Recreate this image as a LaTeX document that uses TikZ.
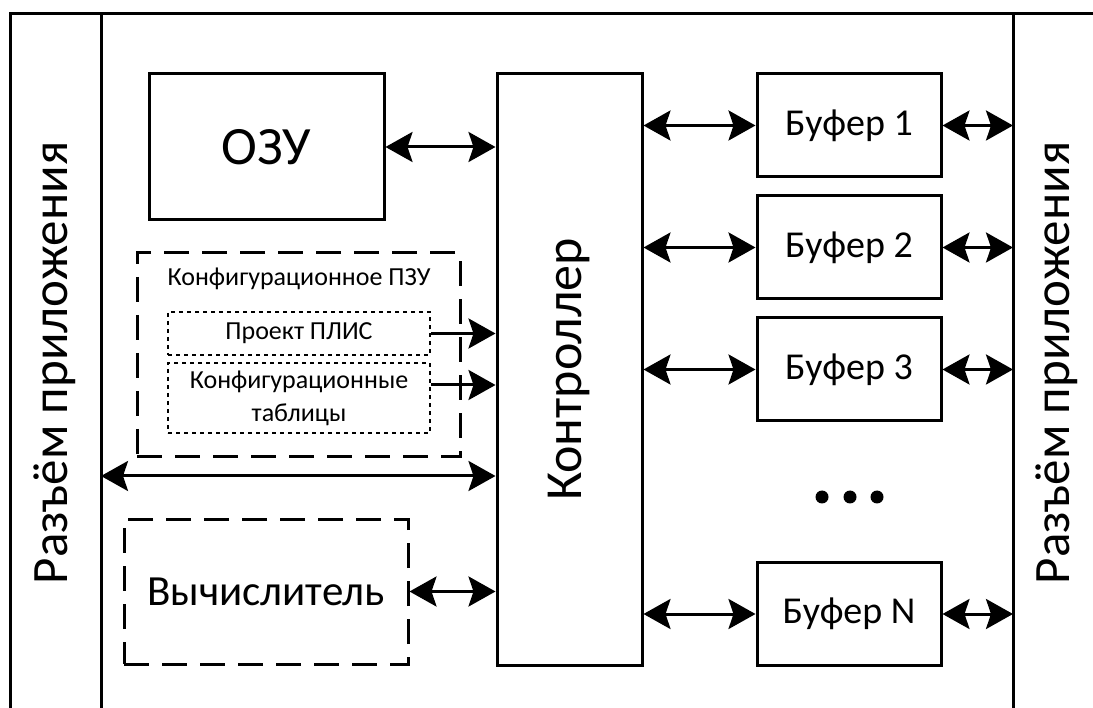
\documentclass[tikz,border=0pt]{standalone}
\usepackage{fontspec}
\setmainfont{Carlito}
\usetikzlibrary{arrows.meta,calc}
\begin{document}
\begin{tikzpicture}[x=1pt,y=-1pt,
  line width=3pt,
  blk/.style={draw, line width=3pt, inner sep=0pt, align=center},
  dashblk/.style={blk, dash pattern=on 25pt off 13pt},
  dotblk/.style={blk, line width=2.5pt, dash pattern=on 4pt off 4pt},
  biarrow/.style={line width=3pt, {Stealth[length=27pt,width=30pt,inset=5pt]}-{Stealth[length=27pt,width=30pt,inset=5pt]}},
  onearrow/.style={line width=3pt, -{Stealth[length=27pt,width=30pt,inset=5pt]}},
  buftxt/.style={font=\fontsize{38}{44}\selectfont},
]
\useasboundingbox (0,0) rectangle (1093,708);
\fill[white] (0,0) rectangle (1093,708);

% frame
\draw (10,712) -- (10,14) -- (1096,14);
\draw (101,14) -- (101,712);
\draw (1013,14) -- (1013,712);
\coordinate (lline) at (101,476);
\coordinate (rline) at (1013,0);

% connector labels
\node[rotate=90, font=\fontsize{51}{58}\selectfont] (connL) at (55,363) {Разъём приложения};
\node[rotate=90, font=\fontsize{51}{58}\selectfont] (connR) at (1057,363) {Разъём приложения};

% blocks
\node[blk, minimum width=235pt, minimum height=146pt, font=\fontsize{54}{62}\selectfont] (ozu) at (266.5,147) {ОЗУ};
\node[blk, minimum width=145pt, minimum height=591pt] (ctrl) at (569.5,369.5) {};
\node[rotate=90, font=\fontsize{52}{60}\selectfont] (ctrltxt) at (ctrl.center) {Контроллер};

\node[blk, minimum width=184pt, minimum height=103pt, buftxt] (b1) at (849,125.5) {Буфер 1};
\node[blk, minimum width=184pt, minimum height=103pt, buftxt] (b2) at (849,247.5) {Буфер 2};
\node[blk, minimum width=184pt, minimum height=103pt, buftxt] (b3) at (849,369.5) {Буфер 3};
\node[blk, minimum width=184pt, minimum height=103pt, buftxt] (bn) at (849,614) {Буфер N};

\node[dashblk, minimum width=323pt, minimum height=204pt] (pzu) at (298.5,355) {};
\node[font=\fontsize{26}{30}\selectfont] (pzutxt) at (299,279) {Конфигурационное ПЗУ};
\node[dotblk, minimum width=262pt, minimum height=43pt, font=\fontsize{26}{30}\selectfont] (plis) at (299,333.5) {Проект ПЛИС};
\node[dotblk, minimum width=262pt, minimum height=70pt, font=\fontsize{26}{33}\selectfont] (tab) at (299,398) {Конфигурационные\\таблицы};

\node[dashblk, minimum width=284pt, minimum height=145pt, font=\fontsize{43}{50}\selectfont] (calc) at (266,591.5) {Вычислитель};

% dots
\fill (822,497) circle (6.5pt);
\fill (850,497) circle (6.5pt);
\fill (877,497) circle (6.5pt);

% connectors
\draw[biarrow] (ozu.east) -- (ozu.east -| ctrl.west);
\draw[onearrow] (plis.east) -- (plis.east -| ctrl.west);
\draw[onearrow] ([yshift=13pt]tab.east) -- ([yshift=13pt]tab.east -| ctrl.west);
\draw[biarrow] (lline) -- (lline -| ctrl.west);
\draw[biarrow] (calc.east) -- (calc.east -| ctrl.west);

\foreach \b in {b1,b2,b3,bn}{
  \draw[biarrow] (\b.west -| ctrl.east) -- (\b.west);
  \draw[biarrow] (\b.east) -- (\b.east -| rline);
}
\end{tikzpicture}
\end{document}
